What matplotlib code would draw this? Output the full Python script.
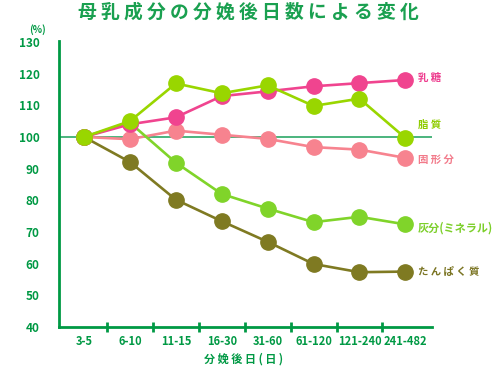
import matplotlib
matplotlib.use("Agg")
import matplotlib.pyplot as plt
import numpy as np

plt.rcParams['font.family'] = ['Noto Sans CJK JP', 'DejaVu Sans']

categories = ["3-5", "6-10", "11-15", "16-30", "31-60", "61-120", "121-240", "241-482"]
yticks = [40, 50, 60, 70, 80, 90, 100, 110, 120, 130]

lactose = [100, 104, 106.2, 112.9, 114.4, 116, 117, 118]        # 乳糖
fat = [100, 105, 116.9, 113.8, 116.3, 109.8, 112.1, 99.7]        # 脂質
solids = [100, 99.3, 102, 100.7, 99.4, 96.8, 96, 93.4]           # 固形分
ash = [100, 104.5, 91.9, 82, 77.4, 73.1, 74.8, 72.4]             # 灰分(ミネラル)
protein = [100, 92.1, 80.2, 73.4, 66.9, 59.9, 57.3, 57.5]        # たんぱく質

names = ["乳 糖", "脂 質", "固 形 分", "灰分(ミネラル)", "た ん ぱ く 質"]

W, H = 499, 366
fig = plt.figure(figsize=(W / 100, H / 100), dpi=100)
ax = fig.add_axes([59 / W, (H - 327) / H, (432 - 59) / W, (327 - 41) / H])

x = np.arange(len(categories))
green = "#009944"

series = [
    (solids, "#f7838f", 2),
    (protein, "#7f7a22", 3),
    (ash, "#80d42a", 4),
    (lactose, "#f0448f", 5),
    (fat, "#99d600", 6),
]
ax.axhline(100, color="#1aa05a", lw=1.1, zorder=1)
for vals, col, z in series:
    ax.plot(x, vals, color=col, lw=1.9, marker="o", ms=11, mec=col, mfc=col, zorder=z,
            solid_capstyle="round")

ax.set_xlim(-0.545, 7.58)
ax.set_ylim(40, 130.3)
for s in ["top", "right"]:
    ax.spines[s].set_visible(False)
for s in ["left", "bottom"]:
    ax.spines[s].set_color(green)
    ax.spines[s].set_linewidth(2)

ax.set_yticks(yticks)
ax.set_yticklabels([str(v) for v in yticks])
ax.set_xticks(x)
ax.set_xticklabels(categories)
ax.set_xticks(x[:-1] + 0.5, minor=True)
ax.tick_params(axis="y", length=0, pad=14, labelcolor=green, labelsize=8.5)
ax.tick_params(axis="x", which="major", length=0, pad=6, labelcolor=green, labelsize=8)
ax.tick_params(axis="x", which="minor", length=7, width=2, direction="inout", color=green)
for lab in ax.get_xticklabels() + ax.get_yticklabels():
    lab.set_fontweight("bold")

fig.text(248 / W, 1 - 12 / H, "母 乳 成 分 の 分 娩 後 日 数 に よ る 変 化", ha="center", va="center",
         fontsize=13.5, fontweight="bold", color="#1aa050")
fig.text(37 / W, 1 - 30 / H, "(%)", ha="center", va="center", fontsize=7,
         fontweight="bold", color=green)
fig.text(244 / W, 1 - 359 / H, "分 娩 後 日 ( 日 )", ha="center", va="center", fontsize=8,
         fontweight="bold", color=green)

label_pos = [78, 125, 160, 228, 272]
label_cols = ["#ee3d8f", "#8fcc00", "#f27a8a", "#7ccf2a", "#7a7422"]
label_sizes = [7.5, 7.5, 7.5, 8, 7.5]
for txt, py, col, fs in zip(names, label_pos, label_cols, label_sizes):
    fig.text(418 / W, 1 - py / H, txt, ha="left", va="center", fontsize=fs,
             fontweight="bold", color=col)

fig.savefig("out.png", dpi=100)
